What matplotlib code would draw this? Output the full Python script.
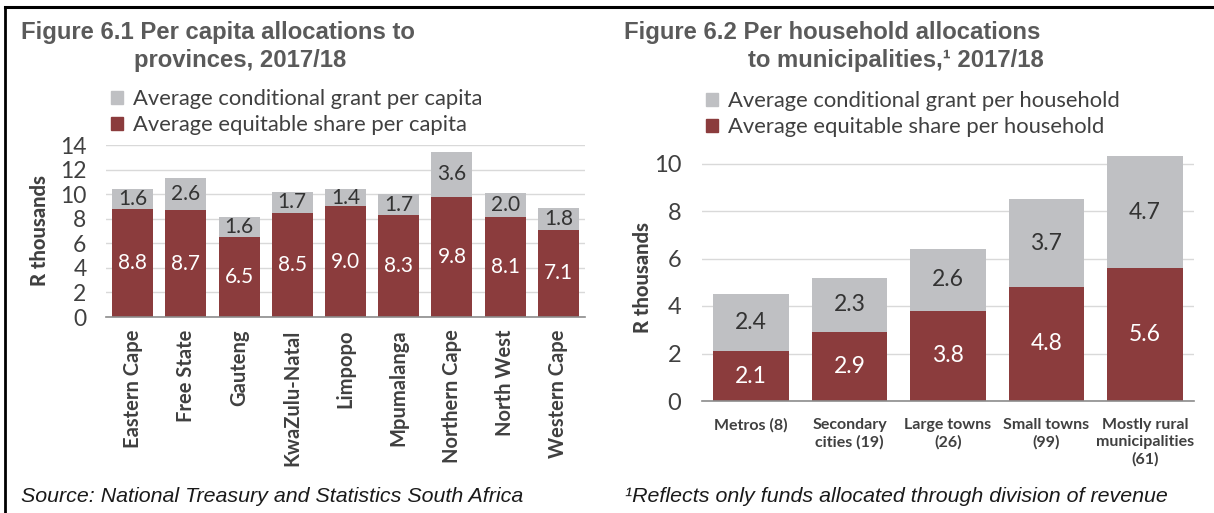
import matplotlib
matplotlib.use("Agg")
import matplotlib.pyplot as plt
from matplotlib.lines import Line2D
from matplotlib.patches import Patch
import numpy as np

# Figure 6.1 data: per capita allocations to provinces (R thousands)
provinces = ["Eastern Cape", "Free State", "Gauteng", "KwaZulu-Natal", "Limpopo",
             "Mpumalanga", "Northern Cape", "North West", "Western Cape"]
prov_equitable = [8.8, 8.7, 6.5, 8.5, 9.0, 8.3, 9.8, 8.1, 7.1]
prov_conditional = [1.6, 2.6, 1.6, 1.7, 1.4, 1.7, 3.6, 2.0, 1.8]
prov_yticks = [0, 2, 4, 6, 8, 10, 12, 14]

# Figure 6.2 data: per household allocations to municipalities (R thousands)
muni_groups = ["Metros (8)", "Secondary\ncities (19)", "Large towns\n(26)",
               "Small towns\n(99)", "Mostly rural\nmunicipalities\n(61)"]
muni_equitable = [2.1, 2.9, 3.8, 4.8, 5.6]
muni_conditional = [2.4, 2.3, 2.6, 3.7, 4.7]
muni_yticks = [0, 2, 4, 6, 8, 10]

RED = "#8b3c3d"
GREY = "#bfc0c3"
GRID = "#d9d9d9"
TICK = "#404040"
TITLE = "#5a5a5a"
BODY = "Lato"
HEAD = "Liberation Sans"

W, H = 1214, 513
fig = plt.figure(figsize=(W / 100, H / 100), dpi=100)


def px_axes(x0, x1, ytop, ybot):
    return fig.add_axes([x0 / W, 1 - ybot / H, (x1 - x0) / W, (ybot - ytop) / H])


def style_axes(ax, yticks, tick_size, pad):
    for s in ["top", "right", "left"]:
        ax.spines[s].set_visible(False)
    ax.spines["bottom"].set_color("#8c8c8c")
    ax.spines["bottom"].set_linewidth(1.2)
    ax.set_yticks(yticks)
    ax.yaxis.grid(True, color=GRID, linewidth=1.0)
    ax.set_axisbelow(True)
    ax.tick_params(axis="y", length=0, labelsize=tick_size, labelcolor=TICK, pad=pad)
    ax.tick_params(axis="x", length=0)
    for lab in ax.get_yticklabels():
        lab.set_fontfamily(BODY)


# ---- left chart ----
axl = px_axes(106, 585, 145, 317)
xl = np.arange(len(provinces))
axl.bar(xl, prov_equitable, width=0.77, color=RED, zorder=2)
axl.bar(xl, prov_conditional, width=0.77, bottom=prov_equitable, color=GREY, zorder=2)
axl.set_xlim(-0.5, len(provinces) - 0.5)
axl.set_ylim(0, 14)
style_axes(axl, prov_yticks, 16.5, 14)
axl.set_xticks(xl)
axl.set_xticklabels(provinces, rotation=90, fontsize=14.5, fontweight="bold",
                    fontfamily=BODY, color=TICK)
axl.tick_params(axis="x", pad=9)
for i, (e, c) in enumerate(zip(prov_equitable, prov_conditional)):
    axl.text(i, e / 2, f"{e:.1f}", ha="center", va="center", color="white",
             fontsize=15, fontfamily=BODY)
    axl.text(i, e + c / 2, f"{c:.1f}", ha="center", va="center", color="#333333",
             fontsize=15, fontfamily=BODY)
axl.set_ylabel("R thousands", fontsize=14.5, fontweight="black", fontfamily=BODY,
               color=TICK, labelpad=8)

# ---- right chart ----
axr = px_axes(702, 1194, 154, 401)
xr = np.arange(len(muni_groups))
axr.bar(xr, muni_equitable, width=0.77, color=RED, zorder=2)
axr.bar(xr, muni_conditional, width=0.77, bottom=muni_equitable, color=GREY, zorder=2)
axr.set_xlim(-0.5, len(muni_groups) - 0.5)
axr.set_ylim(0, 10.4)
style_axes(axr, muni_yticks, 17, 15)
axr.set_xticks(xr)
axr.set_xticklabels(muni_groups, fontsize=11.5, fontweight="bold", fontfamily=BODY,
                    color=TICK, linespacing=1.3, va="top")
axr.tick_params(axis="x", pad=12)
for i, (e, c) in enumerate(zip(muni_equitable, muni_conditional)):
    axr.text(i, e / 2, f"{e:.1f}", ha="center", va="center", color="white",
             fontsize=16.5, fontfamily=BODY)
    axr.text(i, e + c / 2, f"{c:.1f}", ha="center", va="center", color="#333333",
             fontsize=16.5, fontfamily=BODY)
axr.set_ylabel("R thousands", fontsize=14.5, fontweight="black", fontfamily=BODY,
               color=TICK, labelpad=1)

# ---- legends ----
leg_kw = dict(loc="upper left", frameon=False, prop={"family": BODY, "size": 15.8},
              handlelength=0.55, handleheight=0.55, handletextpad=0.45,
              labelspacing=0.28, labelcolor=TICK, borderpad=0, borderaxespad=0)
fig.legend(handles=[Patch(color=GREY, label="Average conditional grant per capita"),
                    Patch(color=RED, label="Average equitable share per capita")],
           bbox_to_anchor=(111 / W, 1 - 89 / H), **leg_kw)
fig.legend(handles=[Patch(color=GREY, label="Average conditional grant per household"),
                    Patch(color=RED, label="Average equitable share per household")],
           bbox_to_anchor=(706 / W, 1 - 91 / H), **leg_kw)

# ---- titles ----
tkw = dict(va="center", fontsize=17.2, fontweight="bold", fontfamily=HEAD, color=TITLE)
fig.text(218 / W, 1 - 32 / H, "Figure 6.1 Per capita allocations to", ha="center", **tkw)
fig.text(134 / W, 1 - 60 / H, "provinces, 2017/18", ha="left", **tkw)
fig.text(624 / W, 1 - 32 / H, "Figure 6.2 Per household allocations", ha="left", **tkw)
fig.text(748 / W, 1 - 60 / H, "to municipalities,\u00b9 2017/18", ha="left", **tkw)

# ---- notes ----
nkw = dict(ha="left", va="center", fontsize=15.4, style="italic", fontfamily=HEAD,
           color="#1a1a1a")
fig.text(21 / W, 1 - 496 / H, "Source: National Treasury and Statistics South Africa", **nkw)
fig.text(625 / W, 1 - 496 / H, "\u00b9Reflects only funds allocated through division of revenue", **nkw)

# ---- frame lines ----
fig.add_artist(Line2D([5 / W, 1], [1 - 7 / H, 1 - 7 / H], color="black", linewidth=2.2,
                      transform=fig.transFigure))
fig.add_artist(Line2D([5 / W, 5 / W], [1 - 7 / H, 0], color="black", linewidth=2.0,
                      transform=fig.transFigure))

fig.savefig("out.png", dpi=100)
